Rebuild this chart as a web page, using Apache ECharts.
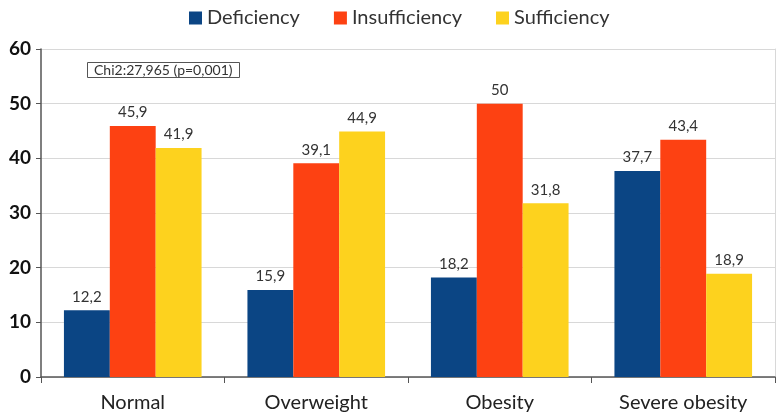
<!DOCTYPE html>
<html><head><meta charset="utf-8">
<script src="https://cdn.jsdelivr.net/npm/echarts@6/dist/echarts.min.js"></script>
<style>html,body{margin:0;padding:0;background:#fff}#c{width:779px;height:420px}</style>
</head><body><div id="c"></div>
<script>
const categories = ['Normal', 'Overweight', 'Obesity', 'Severe obesity'];
const deficiency = [12.2, 15.9, 18.2, 37.7];
const insufficiency = [45.9, 39.1, 50, 43.4];
const sufficiency = [41.9, 44.9, 31.8, 18.9];
const seriesNames = ['Deficiency', 'Insufficiency', 'Sufficiency'];
const colors = ['#0b4584', '#fd4112', '#fdd21e'];
const annotation = 'Chi2:27,965 (p=0,001)';
const FONT = 'Lato';

const fmt = p => String(p.value).replace('.', ',');
const mk = (name, data, color) => ({
  name, type: 'bar', data, barGap: '0%', barCategoryGap: '25%',
  itemStyle: { color },
  label: { show: true, position: 'top', formatter: fmt, color: '#333', fontSize: 15, fontFamily: FONT, distance: 6 }
});
const chart = echarts.init(document.getElementById('c'));
chart.setOption({
  animation: false,
  color: colors,
  title: {
    text: annotation, left: 87, top: 62, padding: [1, 7],
    borderColor: '#555', borderWidth: 1,
    textStyle: { fontSize: 14, fontWeight: 'normal', color: '#333', fontFamily: FONT }
  },
  legend: {
    data: seriesNames, top: 3, left: 184, itemGap: 34, itemWidth: 13, itemHeight: 13, icon: 'rect',
    textStyle: { fontSize: 20, color: '#333', fontFamily: FONT }
  },
  grid: { left: 41, right: 4, top: 49, bottom: 43, containLabel: false },
  xAxis: {
    type: 'category', data: categories,
    axisLine: { lineStyle: { color: '#555', width: 1.5 } },
    axisTick: { show: true, length: 6, lineStyle: { color: '#555' } },
    axisLabel: { fontSize: 20, color: '#222', fontFamily: FONT, margin: 16 }
  },
  yAxis: [{
    type: 'value', min: 0, max: 60, interval: 10,
    axisLine: { show: true, lineStyle: { color: '#555', width: 1.5 } },
    axisTick: { show: true, length: 5, lineStyle: { color: '#555' } },
    axisLabel: { fontSize: 19, fontWeight: 'bold', color: '#111', fontFamily: FONT, margin: 10 },
    splitLine: { lineStyle: { color: '#d8d8d8' } }
  }, {
    type: 'value', min: 0, max: 60, interval: 10, position: 'right',
    axisLine: { show: true, lineStyle: { color: '#d8d8d8' } },
    axisTick: { show: false }, axisLabel: { show: false }, splitLine: { show: false }
  }],
  series: [
    mk(seriesNames[0], deficiency, colors[0]),
    mk(seriesNames[1], insufficiency, colors[1]),
    mk(seriesNames[2], sufficiency, colors[2])
  ]
});
</script></body></html>
